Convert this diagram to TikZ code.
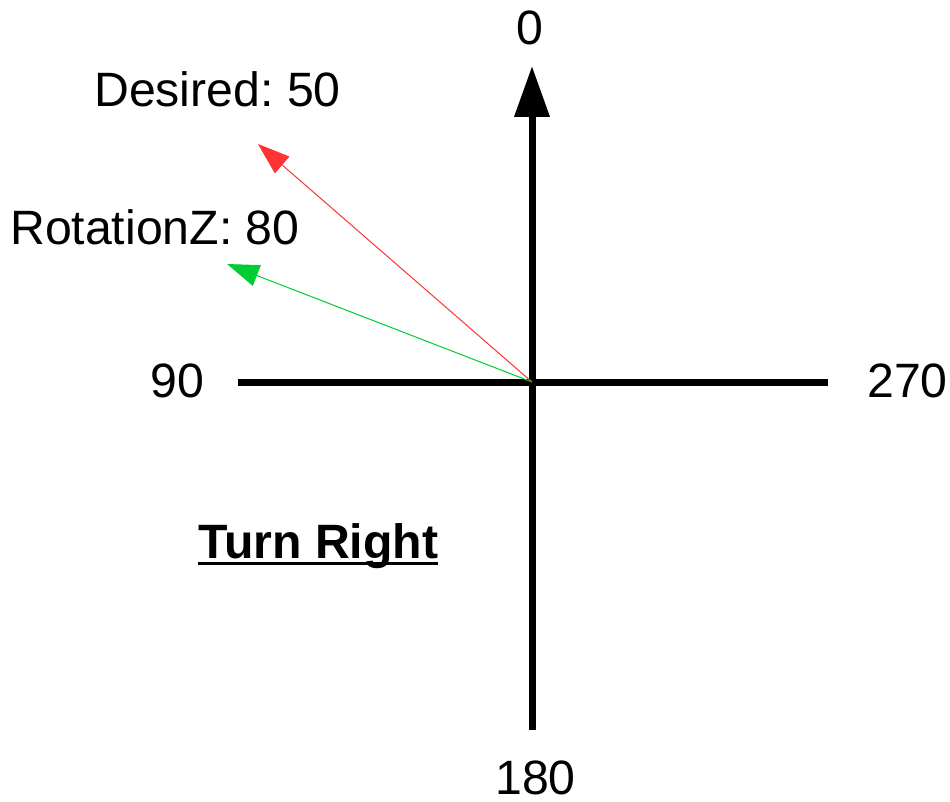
\documentclass[tikz,border=0pt]{standalone}
\usepackage{fontspec}
\setmainfont{Liberation Sans}
\usetikzlibrary{arrows.meta}
\definecolor{dred}{HTML}{FF3333}
\definecolor{dgreen}{HTML}{00CC33}
\frenchspacing
\begin{document}
\begin{tikzpicture}[x=1pt,y=-1pt,
  lbl/.style={inner sep=0pt,font=\fontsize{48.2}{58}\selectfont},
  axis/.style={line width=7pt,line cap=butt},
  vec/.style={line width=1pt,-{Triangle[length=32pt,width=22pt]}}]
\useasboundingbox (0,0) rectangle (950,802);
\coordinate (O) at (532,382);
\coordinate (top) at (532,66);
\coordinate (bot) at (532,730);
\coordinate (lft) at (238,382);
\coordinate (rgt) at (828,382);
\coordinate (des) at (258,144);
\coordinate (rot) at (227,264);
\draw[axis,-{Triangle[length=51pt,width=34pt]}] (bot) -- (top);
\draw[axis] (lft) -- (rgt);
\draw[vec,dred] (O) -- (des);
\draw[vec,dgreen] (O) -- (rot);
\node[lbl,anchor=base] (n0) at (530,45) {0};
\node[lbl,anchor=base west] (n90) at (150,397) {90};
\node[lbl,anchor=base west] (n270) at (867,397) {270};
\node[lbl,anchor=base west] (n180) at (495,794) {180};
\node[lbl,anchor=base west] (nd) at (94,107) {Desired: 50};
\node[lbl,anchor=base west] (nr) at (10,245) {RotationZ: 80};
\node[lbl,anchor=base west,font=\fontsize{48.2}{58}\selectfont\bfseries] (tr) at (198,558) {Turn Right};
\draw[line width=3pt] ([yshift=-5pt]tr.base west) -- ([yshift=-5pt]tr.base east);
\end{tikzpicture}
\end{document}
